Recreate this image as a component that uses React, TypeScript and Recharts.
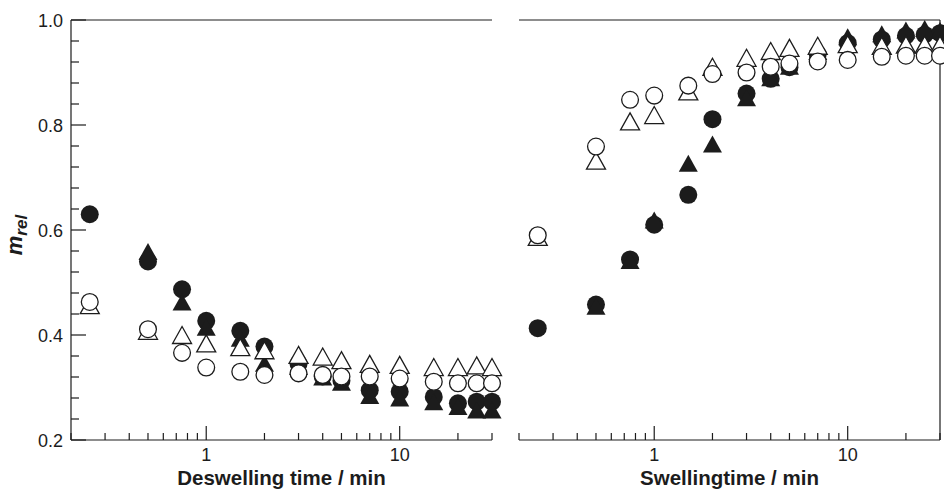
import { ScatterChart, Scatter, XAxis, YAxis, ReferenceLine } from "recharts";

// sampling times (min), shared by both panels
const times = [0.25, 0.5, 0.75, 1, 1.5, 2, 3, 4, 5, 7, 10, 15, 20, 25, 30];

// deswelling panel (left); null = no point at that time
const deswellFilledCircle = [0.63, 0.54, 0.487, 0.427, 0.408, 0.378, 0.345, 0.321, 0.313, 0.295, 0.292, 0.282, 0.27, 0.273, 0.273];
const deswellFilledTriangle = [null, 0.559, 0.463, 0.415, 0.394, 0.346, 0.34, 0.32, 0.31, 0.285, 0.28, 0.273, 0.264, 0.257, 0.257];
const deswellOpenCircle = [0.463, 0.411, 0.366, 0.338, 0.33, 0.324, 0.327, 0.324, 0.321, 0.321, 0.317, 0.311, 0.308, 0.308, 0.308];
const deswellOpenTriangle = [0.457, 0.408, 0.4, 0.384, 0.377, 0.371, 0.362, 0.359, 0.352, 0.345, 0.343, 0.339, 0.339, 0.342, 0.339];

// swelling panel (right)
const swellFilledCircle = [0.413, 0.458, 0.544, 0.61, 0.667, 0.811, 0.86, 0.888, 0.91, 0.935, 0.956, 0.963, 0.97, 0.972, 0.975];
const swellFilledTriangle = [null, 0.455, 0.542, 0.619, 0.727, 0.764, 0.852, 0.89, 0.912, 0.94, 0.968, 0.974, 0.981, 0.984, 0.98];
const swellOpenCircle = [0.59, 0.759, 0.848, 0.856, 0.875, 0.897, 0.9, 0.911, 0.917, 0.921, 0.924, 0.93, 0.932, 0.932, 0.932];
const swellOpenTriangle = [0.587, 0.732, 0.807, 0.819, 0.864, 0.911, 0.928, 0.941, 0.947, 0.951, 0.954, 0.951, 0.953, 0.953, 0.953];

// axis ticks
const xTicks = [0.2, 0.3, 0.4, 0.5, 0.6, 0.7, 0.8, 0.9, 1, 2, 3, 4, 5, 6, 7, 8, 9, 10, 20, 30];
const xMajor = [1, 10];
const yTicks = [0.2, 0.24, 0.28, 0.32, 0.36, 0.4, 0.44, 0.48, 0.52, 0.56, 0.6, 0.64, 0.68, 0.72, 0.76, 0.8, 0.84, 0.88, 0.92, 0.96, 1.0];
const yMajor = [0.2, 0.4, 0.6, 0.8, 1.0];

const FONT = "'Liberation Sans', Arial, sans-serif";
const INK = "#1c1c1c";

const toPoints = (vals: (number | null)[]) =>
  times.map((t, i) => ({ t, v: vals[i] })).filter((d) => d.v !== null);

const FilledCircle = (p: any) => <circle cx={p.cx} cy={p.cy} r={9} fill={INK} />;
const OpenCircle = (p: any) => (
  <circle cx={p.cx} cy={p.cy} r={8.4} fill="#fff" stroke={INK} strokeWidth={1.3} />
);
const triPath = (cx: number, cy: number) =>
  `M${cx},${cy - 8.5}L${cx - 9.5},${cy + 8.5}L${cx + 9.5},${cy + 8.5}Z`;
const FilledTriangle = (p: any) => <path d={triPath(p.cx, p.cy)} fill={INK} />;
const OpenTriangle = (p: any) => (
  <path d={triPath(p.cx, p.cy)} fill="#fff" stroke={INK} strokeWidth={1.3} strokeLinejoin="miter" />
);

const XTick = (props: any) => {
  const { x, y, payload } = props;
  const major = xMajor.includes(payload.value);
  return (
    <g>
      <line x1={x} x2={x} y1={y} y2={y - (major ? 14 : 7)} stroke={INK} strokeWidth={1.2} />
      {major && (
        <text x={x} y={y + 21} textAnchor="middle" fontSize={18} fontFamily={FONT} fill={INK}>
          {payload.value}
        </text>
      )}
    </g>
  );
};

const YTick = (props: any) => {
  const { x, y, payload } = props;
  const major = yMajor.some((m) => Math.abs(m - payload.value) < 1e-6);
  return (
    <g>
      <line x1={x} x2={x + (major ? 15 : 8)} y1={y} y2={y} stroke={INK} strokeWidth={1.2} />
      {major && (
        <text x={x - 8} y={y + 6.5} textAnchor="end" fontSize={18} fontFamily={FONT} fill={INK}>
          {payload.value.toFixed(1)}
        </text>
      )}
    </g>
  );
};

const axisTitle = (text: string) => (props: any) => {
  const vb = props.viewBox;
  return (
    <text
      x={vb.x + vb.width / 2}
      y={vb.y + 44.6}
      textAnchor="middle"
      fontSize={20.5}
      fontWeight="bold"
      fontFamily={FONT}
      fill={INK}
    >
      {text}
    </text>
  );
};

const yTitle = (props: any) => {
  const vb = props.viewBox;
  const x = vb.x + 22;
  const y = vb.y + vb.height / 2 + 5;
  return (
    <text
      x={x}
      y={y}
      transform={`rotate(-90, ${x}, ${y})`}
      textAnchor="middle"
      fontSize={22}
      fontWeight="bold"
      fontStyle="italic"
      fontFamily={FONT}
      fill={INK}
    >
      <tspan>m</tspan>
      <tspan fontSize={17} dy={5}>rel</tspan>
    </text>
  );
};

const axisLine = { stroke: INK, strokeWidth: 1.2 };

function Panel(props: {
  title: string;
  left: boolean;
  fc: (number | null)[];
  ft: (number | null)[];
  oc: (number | null)[];
  ot: (number | null)[];
}) {
  const { title, left, fc, ft, oc, ot } = props;
  return (
    <ScatterChart
      width={left ? 512 : 444}
      height={489}
      margin={left ? { top: 20, right: 20, bottom: 0, left: 0 } : { top: 20, right: 4, bottom: 0, left: 19 }}
    >
      <XAxis
        type="number"
        dataKey="t"
        scale="log"
        domain={[0.2, 30]}
        ticks={xTicks}
        interval={0}
        tickSize={0}
        tickMargin={0}
        tickLine={false}
        tick={<XTick />}
        axisLine={axisLine}
        height={49}
        label={{ content: axisTitle(title) }}
      />
      {left ? (
        <YAxis
          type="number"
          dataKey="v"
          domain={[0.2, 1.0]}
          ticks={yTicks}
          interval={0}
          tickSize={0}
          tickMargin={0}
          tickLine={false}
          tick={<YTick />}
          axisLine={axisLine}
          width={71}
          label={{ content: yTitle }}
        />
      ) : (
        <YAxis type="number" dataKey="v" domain={[0.2, 1.0]} hide />
      )}
      <ReferenceLine y={1.0} stroke={INK} strokeWidth={1.2} />
      {!left && <ReferenceLine x={30} stroke={INK} strokeWidth={1.2} />}
      <Scatter data={toPoints(fc)} shape={FilledCircle} isAnimationActive={false} />
      <Scatter data={toPoints(ft)} shape={FilledTriangle} isAnimationActive={false} />
      <Scatter data={toPoints(ot)} shape={OpenTriangle} isAnimationActive={false} />
      <Scatter data={toPoints(oc)} shape={OpenCircle} isAnimationActive={false} />
    </ScatterChart>
  );
}

export default function App() {
  return (
    <div style={{ position: "absolute", left: 0, top: 0, width: 944, height: 489, background: "#fff", overflow: "hidden" }}>
      <div style={{ position: "absolute", left: 0, top: 0 }}>
        <Panel
          title="Deswelling time / min"
          left
          fc={deswellFilledCircle}
          ft={deswellFilledTriangle}
          oc={deswellOpenCircle}
          ot={deswellOpenTriangle}
        />
      </div>
      <div style={{ position: "absolute", left: 500, top: 0 }}>
        <Panel
          title="Swellingtime / min"
          left={false}
          fc={swellFilledCircle}
          ft={swellFilledTriangle}
          oc={swellOpenCircle}
          ot={swellOpenTriangle}
        />
      </div>
    </div>
  );
}
